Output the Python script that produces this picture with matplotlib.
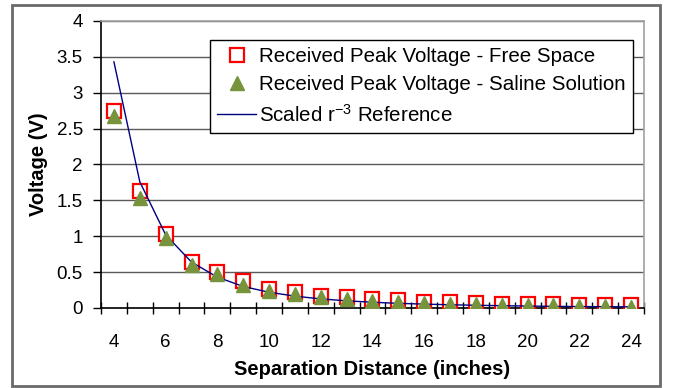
import matplotlib
matplotlib.use("Agg")
import matplotlib.pyplot as plt
from matplotlib.patches import Rectangle
from matplotlib.ticker import FixedLocator

plt.rcParams['font.family'] = ['Liberation Sans', 'DejaVu Sans']
plt.rcParams['mathtext.default'] = 'regular'

distance = [4, 5, 6, 7, 8, 9, 10, 11, 12, 13, 14, 15, 16, 17, 18, 19, 20, 21, 22, 23, 24]
free_space = [2.74, 1.63, 1.03, 0.64, 0.50, 0.37, 0.26, 0.22, 0.17, 0.15, 0.12, 0.11,
              0.09, 0.08, 0.07, 0.06, 0.055, 0.05, 0.045, 0.04, 0.035]
saline = [2.67, 1.53, 0.98, 0.60, 0.47, 0.32, 0.24, 0.19, 0.15, 0.13, 0.10, 0.09,
          0.07, 0.06, 0.05, 0.045, 0.04, 0.035, 0.03, 0.025, 0.02]
reference = [3.43, 1.76, 1.02, 0.64, 0.43, 0.30, 0.22, 0.165, 0.127, 0.10, 0.08, 0.065,
             0.054, 0.045, 0.038, 0.032, 0.027, 0.023, 0.020, 0.018, 0.016]

labels = ['Received Peak Voltage - Free Space',
          'Received Peak Voltage - Saline Solution',
          'Scaled r$^{-3}$ Reference']
y_ticks = [0, 0.5, 1, 1.5, 2, 2.5, 3, 3.5, 4]
y_ticklabels = ['0', '0.5', '1', '1.5', '2', '2.5', '3', '3.5', '4']
x_ticks = [4, 6, 8, 10, 12, 14, 16, 18, 20, 22, 24]

fig = plt.figure(figsize=(6.75, 3.88), dpi=100)
fig.patches.append(Rectangle((12/675, 2/388), 648/675, 381/388, transform=fig.transFigure,
                             fill=False, edgecolor='#6a6a6a', linewidth=2))
ax = fig.add_axes([101/675, 1-308/388, 543/675, 287/388])

ax.plot(distance, free_space, linestyle='none', marker='s', markersize=10,
        markerfacecolor='white', markeredgecolor='#ff0000', markeredgewidth=1.6,
        label=labels[0], zorder=3)
ax.plot(distance, reference, color='#000080', linewidth=1, label=labels[2], zorder=4)
ax.plot(distance, saline, linestyle='none', marker='^', markersize=10,
        color='#77933c', label=labels[1], zorder=5)

ax.set_xlim(3.5, 24.5)
ax.set_ylim(0, 4)
ax.set_yticks(y_ticks)
ax.set_yticklabels(y_ticklabels)
ax.set_xticks(x_ticks)
ax.set_xticklabels([str(v) for v in x_ticks])
ax.xaxis.set_minor_locator(FixedLocator([v + 0.5 for v in range(3, 25)]))
ax.tick_params(axis='x', which='major', length=0, pad=19, labelsize=13.5)
ax.tick_params(axis='x', which='minor', direction='inout', length=8, width=1)
ax.tick_params(axis='y', which='major', direction='out', length=6, width=1,
               labelsize=13.5, pad=7)

ax.grid(axis='y', color='#5a5a5a', linewidth=1)
ax.set_axisbelow(True)
for s in ['top', 'right']:
    ax.spines[s].set_color('#a0a0a0')
    ax.spines[s].set_linewidth(1.2)
for s in ['left', 'bottom']:
    ax.spines[s].set_color('black')
    ax.spines[s].set_linewidth(1.2)

ax.set_xlabel('Separation Distance (inches)', fontsize=14.5, fontweight='bold', labelpad=6)
ax.set_ylabel('Voltage (V)', fontsize=14.5, fontweight='bold', labelpad=6)

h, l = ax.get_legend_handles_labels()
order = [0, 2, 1]
leg = ax.legend([h[i] for i in order], [l[i] for i in order], loc='upper left',
                bbox_to_anchor=((210-101)/543, (308-40)/287), fontsize=14.8,
                frameon=True, fancybox=False, edgecolor='black', framealpha=1,
                handlelength=1.9, handletextpad=0.15, labelspacing=0.45,
                borderpad=0.35, borderaxespad=0)
leg.get_frame().set_linewidth(1)
leg.set_zorder(10)

fig.savefig('out.png', dpi=100)
